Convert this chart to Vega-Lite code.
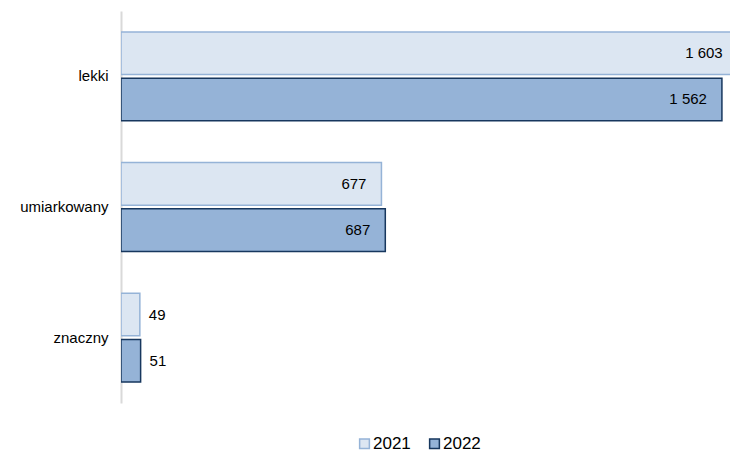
{
  "$schema": "https://vega.github.io/schema/vega-lite/v6.json",
  "autosize": "none",
  "width": 609,
  "height": 392,
  "padding": {"left": 121, "top": 11, "right": 0, "bottom": 49},
  "config": {
    "view": {"stroke": null},
    "font": "Liberation Sans"
  },
  "data": {
    "values": [
      {"kategoria": "lekki", "rok": "2021", "wartosc": 1603, "etykieta": "1 603"},
      {"kategoria": "lekki", "rok": "2022", "wartosc": 1562, "etykieta": "1 562"},
      {"kategoria": "umiarkowany", "rok": "2021", "wartosc": 677, "etykieta": "677"},
      {"kategoria": "umiarkowany", "rok": "2022", "wartosc": 687, "etykieta": "687"},
      {"kategoria": "znaczny", "rok": "2021", "wartosc": 49, "etykieta": "49"},
      {"kategoria": "znaczny", "rok": "2022", "wartosc": 51, "etykieta": "51"}
    ]
  },
  "encoding": {
    "y": {
      "field": "kategoria",
      "type": "nominal",
      "sort": ["lekki", "umiarkowany", "znaczny"],
      "scale": {"paddingInner": 0.32, "paddingOuter": 0.16},
      "axis": {
        "title": null,
        "ticks": false,
        "labelFontSize": 15,
        "labelColor": "#000000",
        "labelPadding": 13,
        "domainColor": "#d9d9d9",
        "domainWidth": 2,
        "grid": false
      }
    },
    "yOffset": {
      "field": "rok",
      "type": "nominal",
      "sort": ["2021", "2022"],
      "scale": {"paddingInner": 0.08, "paddingOuter": 0}
    },
    "x": {
      "field": "wartosc",
      "type": "quantitative",
      "scale": {"domain": [0, 1583], "nice": false},
      "axis": null
    }
  },
  "layer": [
    {
      "mark": {"type": "bar", "clip": true, "strokeWidth": 1.5},
      "encoding": {
        "fill": {
          "field": "rok",
          "type": "nominal",
          "scale": {"domain": ["2021", "2022"], "range": ["#dce6f2", "#95b3d7"]},
          "legend": {
            "title": null,
            "orient": "none",
            "legendX": 235,
            "legendY": 424,
            "direction": "horizontal",
            "symbolType": "square",
            "symbolSize": 95,
            "symbolStrokeWidth": 1.5,
            "labelFontSize": 17,
            "labelColor": "#000000",
            "labelOffset": 0,
            "columnPadding": 15
          }
        },
        "stroke": {
          "field": "rok",
          "type": "nominal",
          "scale": {"domain": ["2021", "2022"], "range": ["#95b3d7", "#17375e"]},
          "legend": null
        }
      }
    },
    {
      "transform": [{"filter": "datum.wartosc >= 100"}],
      "mark": {"type": "text", "align": "right", "dx": -15, "fontSize": 15, "color": "#000000"},
      "encoding": {"text": {"field": "etykieta"}}
    },
    {
      "transform": [{"filter": "datum.wartosc < 100"}],
      "mark": {"type": "text", "align": "left", "dx": 9, "fontSize": 15, "color": "#000000"},
      "encoding": {"text": {"field": "etykieta"}}
    }
  ]
}
